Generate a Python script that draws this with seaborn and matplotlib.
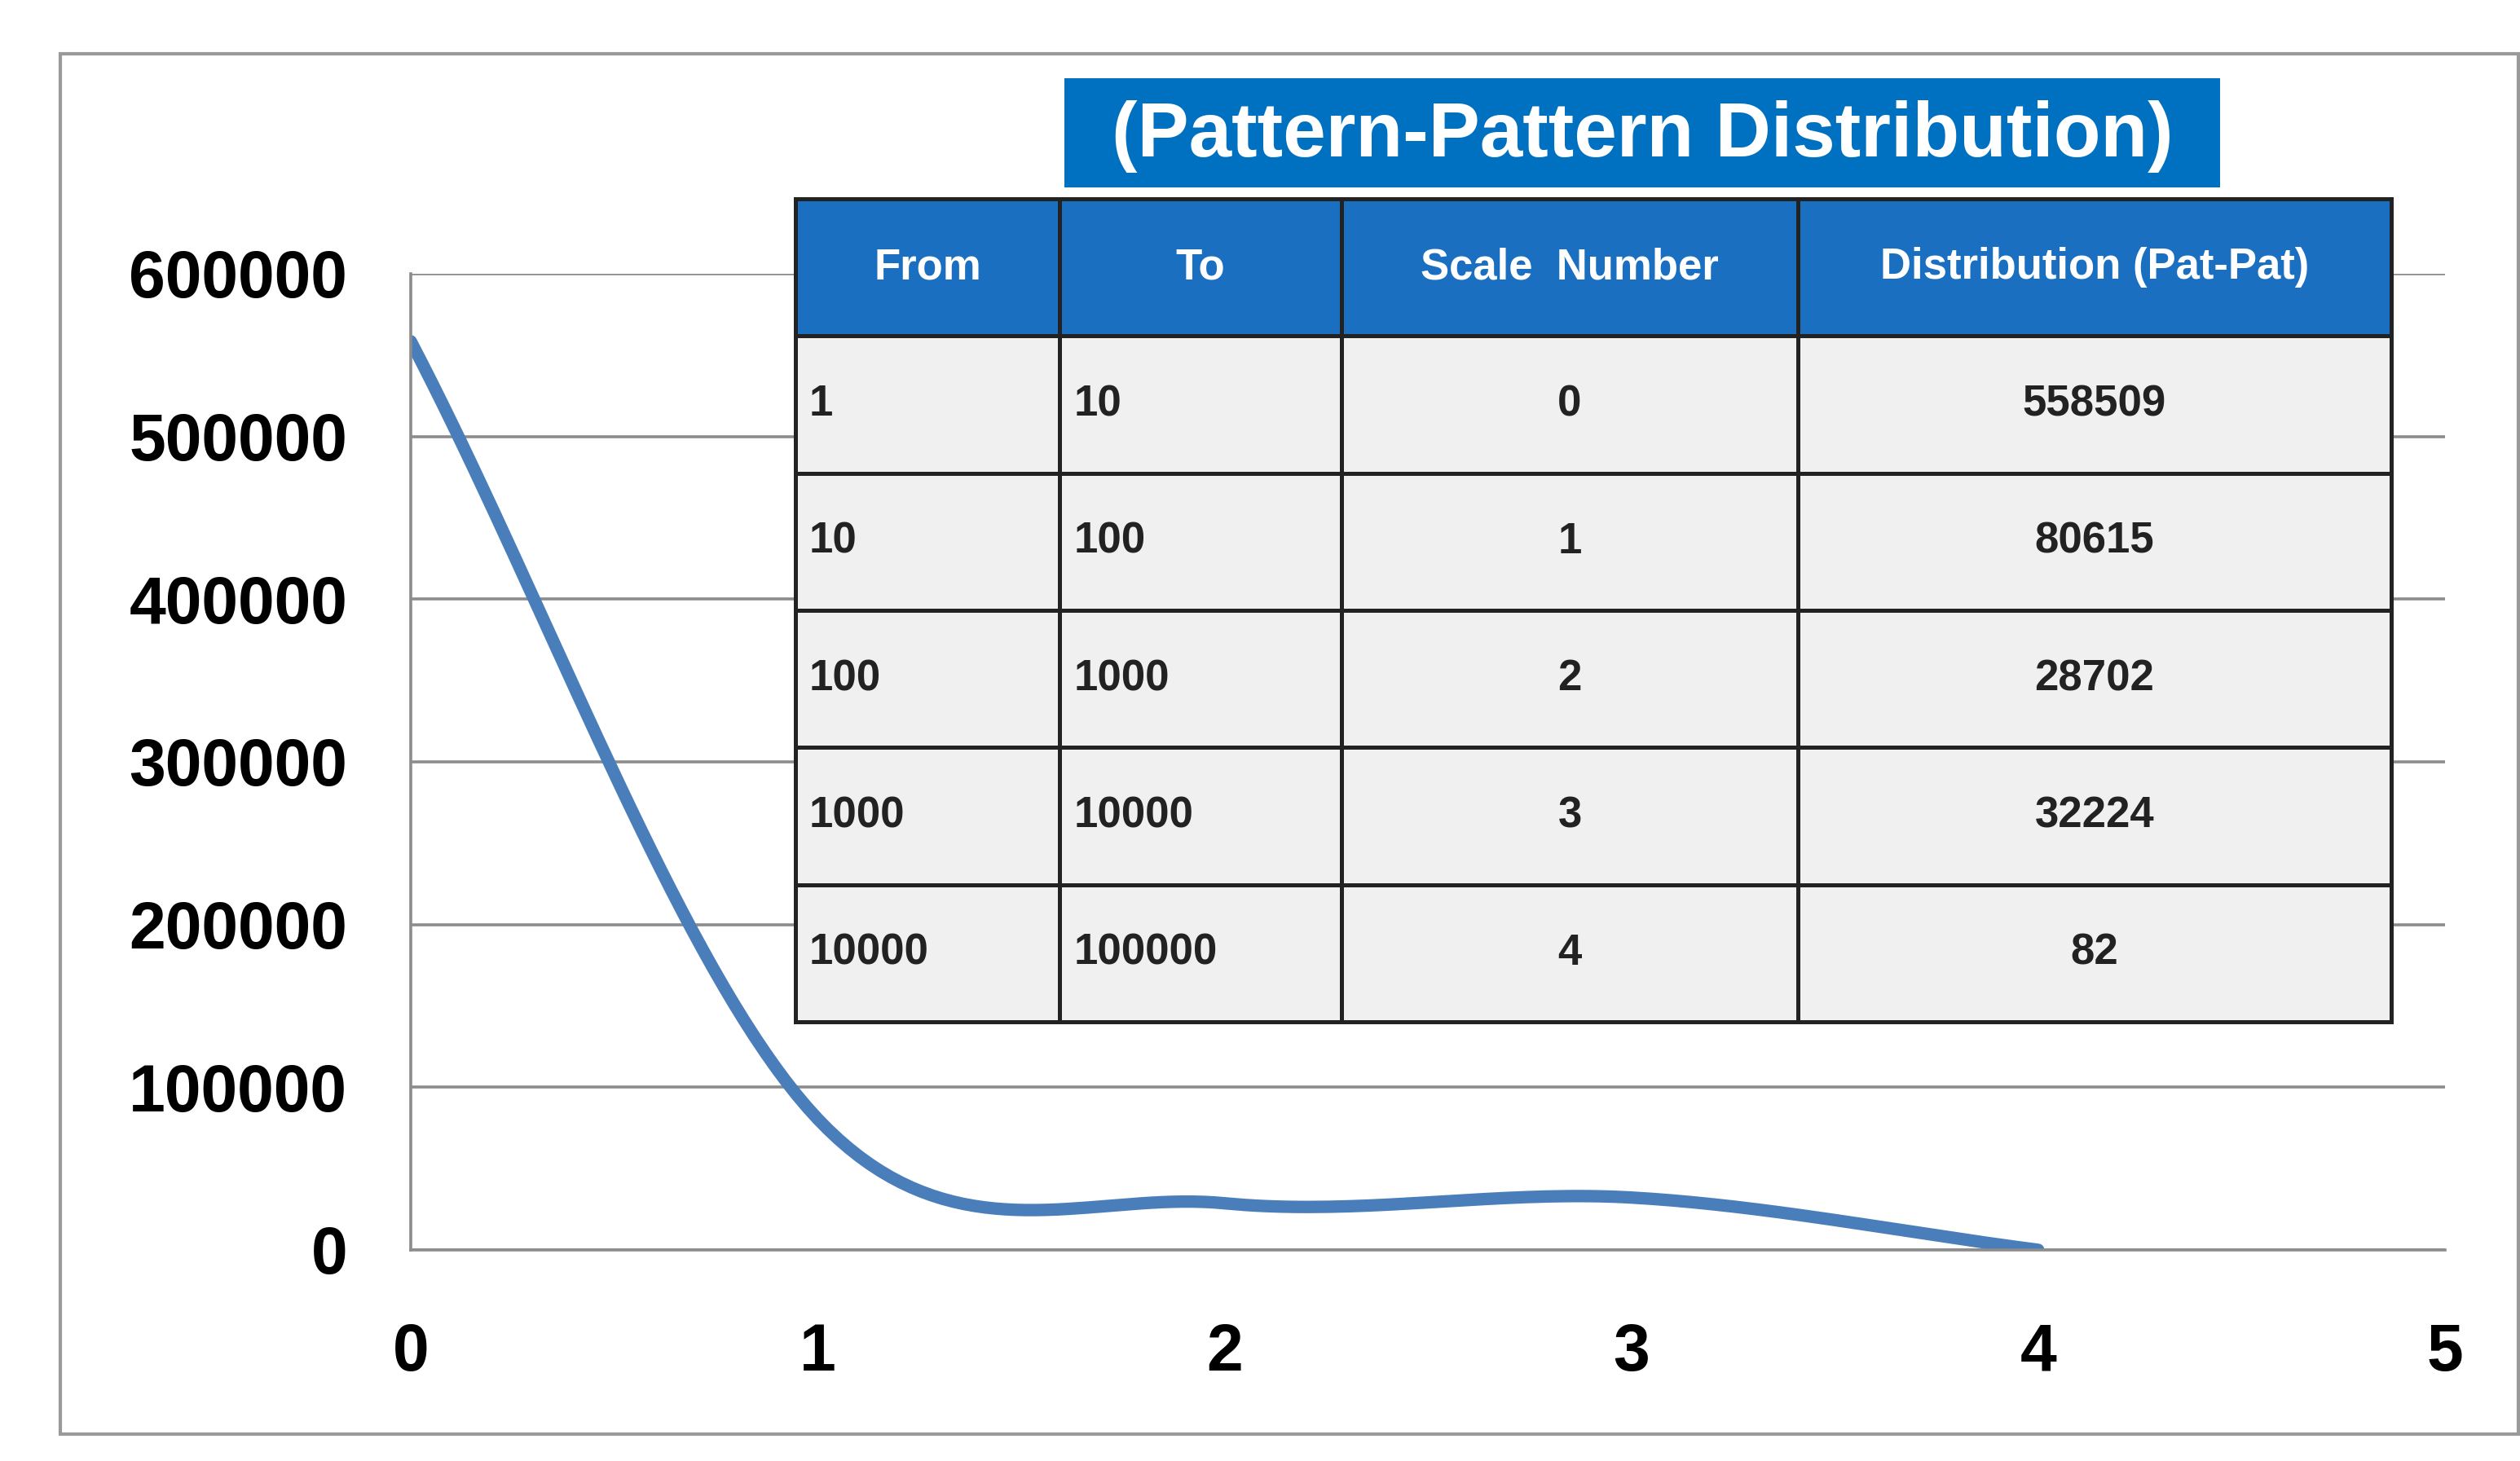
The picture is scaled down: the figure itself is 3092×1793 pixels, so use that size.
import numpy as np
import matplotlib.pyplot as plt
import seaborn as sns
from matplotlib.patches import Rectangle

# Data
scale_number = [0, 1, 2, 3, 4]
distribution = [558509, 80615, 28702, 32224, 82]
range_from = ["1", "10", "100", "1000", "10000"]
range_to = ["10", "100", "1000", "10000", "100000"]
col_labels = ["From", "To", "Scale  Number", "Distribution (Pat-Pat)"]
title = "(Pattern-Pattern Distribution)"

sns.set_style("white")
plt.rcParams['font.family'] = ['Liberation Sans Narrow', 'Liberation Sans', 'DejaVu Sans']

W, H = 1546, 896.5
fig = plt.figure(figsize=(15.46, 8.965), dpi=200)
fig.patches.append(Rectangle((37 / W, 1 - 880 / H), (1545 - 37) / W, (880 - 33) / H,
                             transform=fig.transFigure, fill=False, ec='#9a9a9a', lw=1.5))

ax = fig.add_axes([252 / W, 1 - 767 / H, (1500 - 252) / W, (767 - 168) / H])

# smooth line like Excel (Catmull-Rom through the data points)
x = np.array(scale_number, float)
y = np.array(distribution, float)
px = np.concatenate([[2 * x[0] - x[1]], x, [2 * x[-1] - x[-2]]])
py = np.concatenate([[2 * y[0] - y[1]], y, [2 * y[-1] - y[-2]]])
sx, sy = [], []
t = np.linspace(0, 1, 40)
for i in range(1, len(px) - 2):
    for arr, out in ((px, sx), (py, sy)):
        p0, p1, p2, p3 = arr[i - 1:i + 3]
        out.extend(0.5 * (2 * p1 + (-p0 + p2) * t + (2 * p0 - 5 * p1 + 4 * p2 - p3) * t ** 2
                          + (-p0 + 3 * p1 - 3 * p2 + p3) * t ** 3))
sns.lineplot(x=sx, y=sy, ax=ax, color='#4a7ebb', lw=5.5, sort=False, estimator=None)

ax.set_xlim(0, 5)
ax.set_ylim(0, 600000)
ax.set_xticks(range(6))
ax.set_yticks(range(0, 600001, 100000))
ax.yaxis.grid(True, color='#8c8c8c', lw=1.3)
ax.set_axisbelow(True)
for s in ['top', 'right']:
    ax.spines[s].set_visible(False)
for s in ['left', 'bottom']:
    ax.spines[s].set_color('#8c8c8c')
    ax.spines[s].set_linewidth(1.3)
ax.tick_params(axis='both', direction='out', length=14, width=1.3, color='#8c8c8c',
               labelsize=29, pad=14, labelcolor='black')
ax.tick_params(axis='x', pad=18)
for lab in ax.get_xticklabels() + ax.get_yticklabels():
    lab.set_fontweight('bold')

# Table
tax = fig.add_axes([488 / W, 1 - 627 / H, (1467 - 488) / W, (627 - 122) / H])
tax.axis('off')
cells = [[range_from[i], range_to[i], str(scale_number[i]), str(distribution[i])] for i in range(5)]
tab = tax.table(cellText=cells, colLabels=col_labels, bbox=[0, 0, 1, 1],
                colWidths=[162, 173, 280, 364])
tab.auto_set_font_size(False)
for (r, c), cell in tab.get_celld().items():
    cell.set_edgecolor('#222222')
    cell.set_linewidth(1.8)
    txt = cell.get_text()
    txt.set_fontsize(19)
    txt.set_fontweight('bold')
    if r == 0:
        cell.set_facecolor('#1a6fc0')
        txt.set_color('white')
        txt.set_ha('center')
    else:
        cell.set_facecolor('#f0f0f0')
        txt.set_color('#222222')
        if c < 2:
            txt.set_ha('left')
            cell.PAD = 0.05
        else:
            txt.set_ha('center')

# Title box
fig.patches.append(Rectangle((653 / W, 1 - 115 / H), (1362 - 653) / W, (115 - 48) / H,
                             transform=fig.transFigure, fc='#0070c0', ec='none'))
fig.text((653 + 1362) / 2 / W, 1 - 84 / H, title, ha='center', va='center', color='white',
         fontsize=34, fontweight='bold')

fig.savefig('out.png', dpi=200)
